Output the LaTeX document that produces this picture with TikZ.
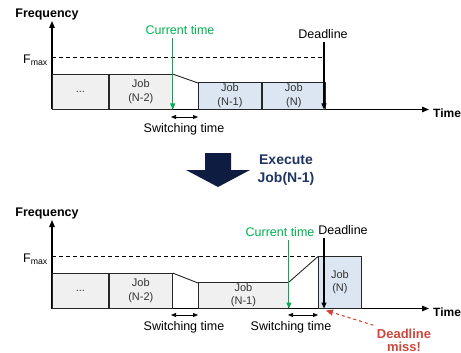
\documentclass[tikz,border=0pt]{standalone}
\usepackage{fontspec}
\setmainfont{Liberation Sans}
\usepackage{xcolor}
\usepackage{tikz}
\usetikzlibrary{positioning,arrows.meta}
\definecolor{curgreen}{RGB}{0,176,80}
\definecolor{navyarr}{RGB}{14,28,66}
\definecolor{navytxt}{RGB}{31,52,100}
\definecolor{missred}{RGB}{205,72,60}
\definecolor{jobgray}{RGB}{240,240,240}
\definecolor{jobblue}{RGB}{220,230,242}

\begin{document}
\begin{tikzpicture}[x=1pt,y=-1pt,font=\fontsize{12.5}{14}\selectfont,
  axis/.style={line width=1.2pt,-{Triangle[length=7pt,width=5.5pt]}},
  marker/.style={line width=1.1pt,-{Triangle[length=6pt,width=5pt]}},
  switch/.style={line width=0.7pt,{Triangle[length=5pt,width=4pt]}-{Triangle[length=5pt,width=4pt]}},
  jobbox/.style={draw=black!85,line width=0.9pt,inner sep=0pt,align=center,
    font=\fontsize{11}{13.5}\selectfont,text=black!80},
  bold/.style={font=\bfseries\fontsize{12.5}{14}\selectfont}]
\useasboundingbox (0,0) rectangle (461,353);
% common to both panels: axes, F_max and the first two jobs
\foreach \oy/\p/\fx in {0/a/324,199/b/318}{
  \begin{scope}[yshift=-\oy pt]
  \coordinate (o\p) at (52,109.5);
  \coordinate (ytop\p) at (52,21);
  \coordinate (xend\p) at (429,109.5);
  \draw[axis] (o\p) -- (ytop\p);
  \draw[axis] (o\p) -- (xend\p);
  \node[bold] (freq\p) at (47,14) {Frequency};
  \node[bold,anchor=west,inner sep=0.5pt,font=\bfseries\fontsize{12}{14}\selectfont] (time\p) at (432.5,113) {Time};
  \node[anchor=east,inner sep=1pt] (fmax\p) at (49,60) {F\textsubscript{max}};
  \draw[line width=1pt,dash pattern=on 4pt off 3pt] (o\p |- 0,57.5) -- (\fx,57.5);
  \node[jobbox,fill=jobgray,minimum width=56pt,minimum height=34.5pt,anchor=south west] (j1\p) at (o\p) {...};
  \node[jobbox,fill=jobgray,minimum width=63pt,minimum height=34.5pt,anchor=south west] (j2\p) at (j1\p.south east) {Job\\(N-2)};
  \end{scope}
}
% top: switching down to Job(N-1), Job(N)
\draw[line width=0.9pt,black!85] (j2a.north east) -- (198,83);
\node[jobbox,fill=jobblue,minimum width=63pt,minimum height=26.5pt,anchor=south west] (j3a) at (198,109.5) {Job\\(N-1)};
\node[jobbox,fill=jobblue,minimum width=63pt,minimum height=26.5pt,anchor=south west] (j4a) at (j3a.south east) {Job\\(N)};
\node[text=curgreen] (cura) at (180,30) {Current time};
\draw[marker,curgreen] (cura.south -| j2a.south east) -- (j2a.south east);
\node (dla) at (323,34) {Deadline};
\coordinate (dlta) at (324,109.5);
\draw[marker] (dla.south -| dlta) -- (dlta);
\coordinate (swa1) at (171,117);
\coordinate (swa2) at (198,117);
\draw[switch] (swa1) -- (swa2);
\node (swla) at (184,129) {Switching time};
% execute Job(N-1)
\fill[navyarr] (205,153) -- (231,153) -- (231,170) -- (250,170) -- (218,187) -- (186,170) -- (205,170) -- cycle;
\node[align=center,text=navytxt,font=\bfseries\fontsize{14}{18}\selectfont] (exec) at (286,170) {Execute\\Job(N-1)};
% bottom: Job(N-1) runs slow, switching up too late
\draw[line width=0.9pt,black!85] (j2b.north east) -- (198,283);
\node[jobbox,fill=jobgray,minimum width=90pt,minimum height=25.5pt,anchor=south west] (j3b) at (198,308.5) {Job\\(N-1)};
\draw[line width=0.9pt,black!85] (j3b.north east) -- (318,256.5);
\node[jobbox,fill=jobblue,minimum width=43pt,minimum height=52pt,anchor=south west] (j4b) at (318,308.5) {Job\\(N)};
\node[text=curgreen] (curb) at (280,232) {Current time};
\draw[marker,curgreen] (curb.south -| j3b.south east) -- (j3b.south east);
\node (dlb) at (343,230) {Deadline};
\coordinate (dltb) at (324,308.5);
\draw[marker] (dlb.south -| dltb) -- (dltb);
\coordinate (swb1) at (171,315);
\coordinate (swb2) at (198,315);
\coordinate (swb3) at (288,315);
\coordinate (swb4) at (318,315);
\draw[switch] (swb1) -- (swb2);
\draw[switch] (swb3) -- (swb4);
\node (swlb1) at (184,327) {Switching time};
\node (swlb2) at (291,327) {Switching time};
\node[align=center,text=missred,font=\bfseries\fontsize{13}{13}\selectfont] (miss) at (404,340) {Deadline\\miss!};
\draw[missred,dashed,line width=1.1pt,-{Triangle[length=7pt,width=6pt]}] (miss.north west) -- ([xshift=2pt,yshift=-2pt]dltb);
\end{tikzpicture}
\end{document}
